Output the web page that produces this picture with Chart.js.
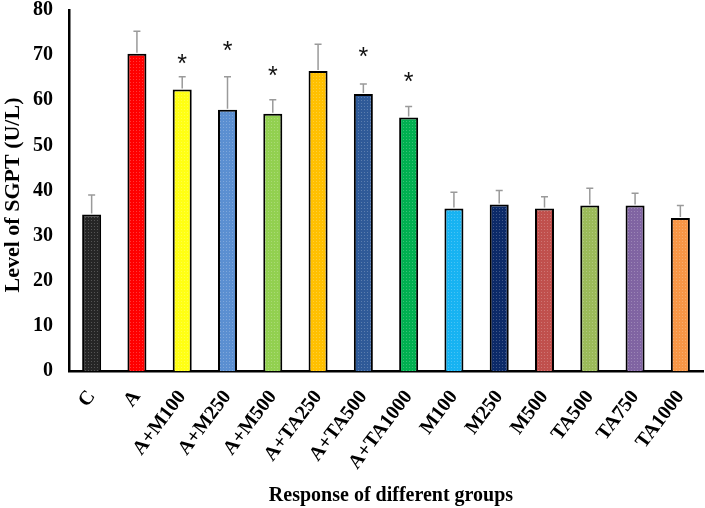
<!DOCTYPE html>
<html><head><meta charset="utf-8">
<script src="https://cdn.jsdelivr.net/npm/chart.js@4"></script>
<style>html,body{margin:0;padding:0;background:#fff}#w{width:705px;height:508px;position:relative}</style>
</head><body><div id="w"><canvas id="c"></canvas></div>
<script>
const categories = ["C","A","A+M100","A+M250","A+M500","A+TA250","A+TA500","A+TA1000","M100","M250","M500","TA500","TA750","TA1000"];
const values = [34.7,70.3,62.4,57.9,57.0,66.5,61.4,56.2,36.0,36.9,36.0,36.7,36.7,33.9];
const errors = [4.3,5.0,2.8,7.3,3.1,5.9,2.2,2.4,3.6,3.1,2.6,3.8,2.7,2.8];
const starLevels = [null,null,69.0,71.8,66.3,null,70.5,65.0,null,null,null,null,null,null];
const yTicks = [0,10,20,30,40,50,60,70,80];
const barColors = ["#262626","#ff0000","#ffff14","#5b8fd1","#92d050","#ffc000","#2f5a98","#00b050","#17b3f2","#0c2a68","#c0504d","#9bbb59","#8064a2","#f79646"];

function pattern(col){
  const cv=document.createElement('canvas');cv.width=3;cv.height=3;
  const g=cv.getContext('2d');g.fillStyle=col;g.fillRect(0,0,3,3);
  g.fillStyle='rgba(255,255,255,0.22)';g.fillRect(1,1,1,1);
  return g.createPattern(cv,'repeat');
}
const ctx=document.getElementById('c').getContext('2d');
const serif='"Liberation Serif","Times New Roman",serif';

const extras={id:'extras',
  afterDatasetsDraw(chart){
    const c=chart.ctx, ys=chart.scales.y, meta=chart.getDatasetMeta(0);
    c.save();
    meta.data.forEach((bar,i)=>{
      const x=bar.x, top=ys.getPixelForValue(values[i]), et=ys.getPixelForValue(values[i]+errors[i]);
      c.strokeStyle='#9a9a9a';c.lineWidth=1.5;
      c.beginPath();c.moveTo(x,top-1);c.lineTo(x,et);c.moveTo(x-3.5,et);c.lineTo(x+3.5,et);c.stroke();
      if(starLevels[i]!=null){
        c.fillStyle='#111';c.font='25px "Liberation Sans",Arial,sans-serif';
        c.textAlign='center';c.textBaseline='middle';
        c.fillText('*',x,ys.getPixelForValue(starLevels[i])+5);
      }
    });
    c.fillStyle='#000';c.textAlign='center';c.textBaseline='middle';
    c.font='bold 20px '+serif;
    c.fillText('Response of different groups',391,496);
    c.font='bold 22px '+serif;
    c.translate(13,195);c.rotate(-Math.PI/2);
    c.fillText('Level of SGPT (U/L)',0,0);
    c.restore();
  }};

new Chart(ctx,{type:'bar',
  data:{labels:categories,datasets:[{data:values,backgroundColor:barColors.map(pattern),borderColor:'#000',borderWidth:2,borderSkipped:'bottom',barPercentage:0.42,categoryPercentage:1}]},
  options:{responsive:true,maintainAspectRatio:false,animation:false,
    layout:{padding:{top:10,right:2,left:0,bottom:0}},
    plugins:{legend:{display:false},tooltip:{enabled:false}},
    scales:{
      x:{grid:{display:false,drawTicks:false},border:{color:'#000',width:2.5},
        ticks:{color:'#000',font:{family:serif,size:20,weight:'bold'},minRotation:53,maxRotation:53,padding:15,autoSkip:false},
        afterFit(s){s.height=137;s.paddingLeft=0;s.paddingRight=0;}},
      y:{min:0,max:80,grid:{display:false,drawOnChartArea:false,drawTicks:true,tickLength:7,tickColor:'#000',tickWidth:2},border:{color:'#000',width:2.5},
        afterBuildTicks(s){s.ticks=yTicks.map(v=>({value:v}));},
        ticks:{color:'#000',font:{family:serif,size:20,weight:'bold'},padding:9},
        afterFit(s){s.width=69;s.paddingTop=0;s.paddingBottom=0;}}
    }},
  plugins:[extras]});
</script></body></html>
